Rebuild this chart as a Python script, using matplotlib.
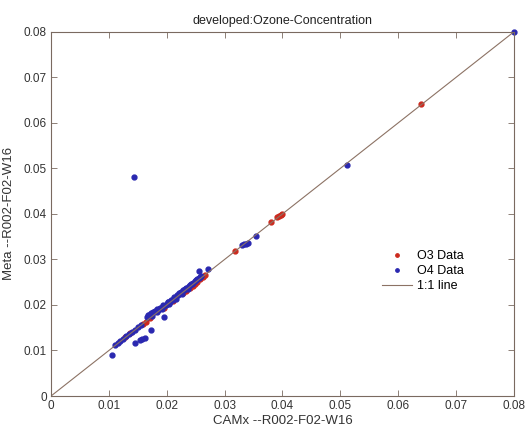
import matplotlib
matplotlib.use("Agg")
import matplotlib.pyplot as plt

# O3 pairs (CAMx, Meta)
o3_x = [0.0128, 0.0137, 0.0159, 0.0164, 0.0171, 0.0195, 0.0210,
        0.0228, 0.0234, 0.0240, 0.0245, 0.0249, 0.0253, 0.0257, 0.0262, 0.0266,
        0.0318, 0.0380, 0.0390, 0.0394, 0.0397, 0.0400, 0.0640]
o3_y = [0.0130, 0.0138, 0.0158, 0.0163, 0.0171, 0.0194, 0.0208,
        0.0226, 0.0231, 0.0237, 0.0242, 0.0246, 0.0251, 0.0257, 0.0262, 0.0266,
        0.0319, 0.0382, 0.0393, 0.0395, 0.0397, 0.0399, 0.0642]

# O4 pairs (CAMx, Meta)
o4_x = [0.0105, 0.0110, 0.0115, 0.0120, 0.0125, 0.0130, 0.0135, 0.0140,
        0.0145, 0.0150, 0.0155, 0.0166, 0.0168, 0.0172, 0.0176, 0.0180,
        0.0183, 0.0185, 0.0188, 0.0190, 0.0193, 0.0195, 0.0198, 0.0200,
        0.0203, 0.0205, 0.0208, 0.0210, 0.0213, 0.0215, 0.0218, 0.0220,
        0.0223, 0.0225, 0.0228, 0.0230, 0.0233, 0.0235, 0.0238, 0.0240,
        0.0243, 0.0245, 0.0248, 0.0250, 0.0253, 0.0255, 0.0258, 0.0260,
        0.0170, 0.0178, 0.0186, 0.0194, 0.0202, 0.0212, 0.0222, 0.0232, 0.0242,
        0.0174, 0.0184, 0.0192, 0.0204, 0.0216, 0.0226, 0.0236,
        0.0145, 0.0154, 0.0158, 0.0162, 0.0172, 0.0195,
        0.0256, 0.0272,
        0.0330, 0.0334, 0.0337, 0.0341, 0.0355,
        0.0143, 0.0511, 0.0800]
o4_y = [0.0089, 0.0113, 0.0117, 0.0121, 0.0126, 0.0132, 0.0136, 0.0141,
        0.0146, 0.0151, 0.0155, 0.0173, 0.0178, 0.0182, 0.0184, 0.0186,
        0.0191, 0.0189, 0.0194, 0.0193, 0.0198, 0.0197, 0.0201, 0.0202,
        0.0207, 0.0206, 0.0211, 0.0211, 0.0216, 0.0216, 0.0221, 0.0222,
        0.0227, 0.0228, 0.0232, 0.0233, 0.0237, 0.0238, 0.0242, 0.0243,
        0.0247, 0.0249, 0.0252, 0.0254, 0.0257, 0.0259, 0.0261, 0.0264,
        0.0177, 0.0184, 0.0192, 0.0199, 0.0207, 0.0217, 0.0227, 0.0236, 0.0246,
        0.0176, 0.0185, 0.0191, 0.0203, 0.0214, 0.0224, 0.0234,
        0.0116, 0.0124, 0.0125, 0.0128, 0.0144, 0.0173,
        0.0275, 0.0278,
        0.0332, 0.0334, 0.0335, 0.0337, 0.0352,
        0.0481, 0.0508, 0.0800]

line_pts = [0, 0.08]
ticks = [0, 0.01, 0.02, 0.03, 0.04, 0.05, 0.06, 0.07, 0.08]
tick_labels = ['0', '0.01', '0.02', '0.03', '0.04', '0.05', '0.06', '0.07', '0.08']

plt.rcParams['font.family'] = ['Liberation Sans', 'DejaVu Sans']

fig = plt.figure(figsize=(5.26, 4.32), dpi=100)
ax = fig.add_axes([0.097, 0.0833, 0.880, 0.843])

ax.plot(o3_x, o3_y, '.', color='#cc2a1e', markersize=7, label='O3 Data',
        clip_on=False)
ax.plot(o4_x, o4_y, '.', color='#2a28b0', markersize=7, label='O4 Data',
        clip_on=False)
ax.plot(line_pts, line_pts, '-', color='#8c7264', linewidth=0.8, label='1:1 line')

ax.set_xlim(0, 0.08)
ax.set_ylim(0, 0.08)
ax.set_xticks(ticks)
ax.set_xticklabels(tick_labels)
ax.set_yticks(ticks)
ax.set_yticklabels(tick_labels)
ax.tick_params(direction='in', top=True, right=True, length=4, width=0.6,
               color='#7a6a60', labelsize=8.5, labelcolor='#333333', pad=3)
for s in ax.spines.values():
    s.set_color('#7a6a60')
    s.set_linewidth(0.8)

ax.set_title('developed:Ozone-Concentration', fontsize=9, color='#222222', pad=6)
ax.set_xlabel('CAMx --R002-F02-W16', fontsize=9.5, color='#333333', labelpad=2)
ax.set_ylabel('Meta --R002-F02-W16', fontsize=9.5, color='#333333', labelpad=6)

ax.legend(loc='center left', bbox_to_anchor=(0.69, 0.343), frameon=False,
          fontsize=9, handlelength=2.4, handletextpad=0.4, labelspacing=0.25,
          markerscale=0.7)

fig.savefig('out.png', dpi=100, facecolor='white')
